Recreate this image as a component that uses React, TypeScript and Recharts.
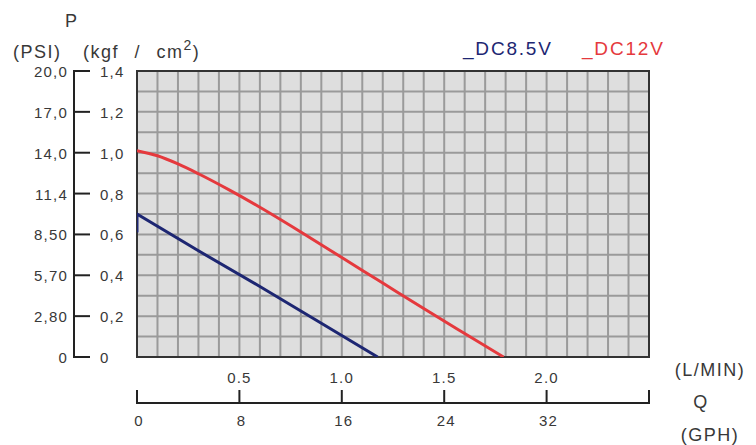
import {
  LineChart,
  Line,
  XAxis,
  YAxis,
  CartesianGrid,
  ReferenceArea,
  Legend,
} from "recharts";

// flow Q in L/min, pressure P in kgf/cm2
const dc85Flow = [0, 0, 0.3, 0.6, 0.9, 1.175];
const dc85Pressure = [0.61, 0.7, 0.52, 0.345, 0.165, 0];

const dc12Flow = [0, 0.1, 0.2, 0.3, 0.45, 0.6, 0.8, 1.0, 1.2, 1.4, 1.6, 1.79];
const dc12Pressure = [1.01, 0.985, 0.945, 0.897, 0.818, 0.733, 0.612, 0.487, 0.362, 0.237, 0.115, 0];

const seriesOrder = ["_DC8.5V", "_DC12V"];

// labelled ticks
const kgfTicks = [0, 0.2, 0.4, 0.6, 0.8, 1.0, 1.2, 1.4];
const kgfLabels = ["0", "0,2", "0,4", "0,6", "0,8", "1,0", "1,2", "1,4"];
const psiLabels = ["0", "2,80", "5,70", "8,50", "11,4", "14,0", "17,0", "20,0"];

const flowTicks = [0, 0.5, 1, 1.5, 2, 2.5];
const lminLabels = ["", "0.5", "1.0", "1.5", "2.0", ""];
const gphLabels = ["0", "8", "16", "24", "32", ""];

// grid cells every 0.1 on both axes
const xGrid = Array.from({ length: 26 }, (_, i) => i / 10);
const yGrid = Array.from({ length: 15 }, (_, i) => i / 10);

const dc85 = dc85Flow.map((q, i) => ({ q, p: dc85Pressure[i] }));
const dc12 = dc12Flow.map((q, i) => ({ q, p: dc12Pressure[i] }));

const WIDTH = 756;
const HEIGHT = 445;
const MARGIN = { top: 71, right: 107, bottom: 0, left: 0 };
const PLOT_W = WIDTH - 137 - MARGIN.right;
const PLOT_H = HEIGHT - MARGIN.top - 88;

const FONT = "'Liberation Sans', Arial, sans-serif";
const TEXT = "#383838";
const AXIS = "#222";

const numText = {
  fontFamily: FONT,
  fontSize: 15,
  letterSpacing: 1.2,
  fill: TEXT,
};

const titleText = {
  fontFamily: FONT,
  fontSize: 18,
  letterSpacing: 1.5,
  fill: TEXT,
};

const findTick = (list: number[], v: number) =>
  list.findIndex((t) => Math.abs(t - v) < 1e-6);

function PressureTick(props: any) {
  const { x, y, payload } = props;
  const i = findTick(kgfTicks, payload.value);
  if (i < 0) return <g />;
  const axisX = x - 63;
  const step = PLOT_H / (kgfTicks.length - 1);
  return (
    <g>
      {i < kgfTicks.length - 1 && (
        <line x1={axisX} y1={y} x2={axisX} y2={y - step} stroke={AXIS} strokeWidth={2} />
      )}
      <line x1={axisX - 1} y1={y} x2={axisX + 16} y2={y} stroke={AXIS} strokeWidth={2} />
      <text x={axisX - 6} y={y + 6} textAnchor="end" {...numText}>
        {psiLabels[i]}
      </text>
      <text x={axisX + 26} y={y + 6} textAnchor="start" {...numText}>
        {kgfLabels[i]}
      </text>
    </g>
  );
}

function FlowTick(props: any) {
  const { x, y, payload } = props;
  const i = findTick(flowTicks, payload.value);
  if (i < 0) return <g />;
  const lineY = y + 46;
  const step = PLOT_W / (flowTicks.length - 1);
  return (
    <g>
      {i < flowTicks.length - 1 && (
        <line x1={x} y1={lineY} x2={x + step} y2={lineY} stroke={AXIS} strokeWidth={2} />
      )}
      <line x1={x} y1={y + 33} x2={x} y2={lineY + 1} stroke={AXIS} strokeWidth={2} />
      {lminLabels[i] && (
        <text x={x} y={y + 26} textAnchor="middle" {...numText}>
          {lminLabels[i]}
        </text>
      )}
      {gphLabels[i] && (
        <text x={x + 2} y={y + 69} textAnchor="middle" {...numText}>
          {gphLabels[i]}
        </text>
      )}
    </g>
  );
}

const pressureTitles = () => (
  <g>
    <text x={65} y={27} {...titleText}>
      P
    </text>
    <text x={13} y={58} {...titleText}>
      (PSI)
    </text>
    <text x={83} y={58} wordSpacing={9} {...titleText}>
      (kgf / cm
      <tspan dy={-8} fontSize={14}>
        2
      </tspan>
      <tspan dy={8}>)</tspan>
    </text>
  </g>
);

const flowTitles = () => (
  <g>
    <text x={710} y={376} textAnchor="middle" {...titleText}>
      (L/MIN)
    </text>
    <text x={701} y={408} textAnchor="middle" {...titleText}>
      Q
    </text>
    <text x={710} y={441} textAnchor="middle" {...titleText}>
      (GPH)
    </text>
  </g>
);

function SeriesLegend(props: any) {
  const items = [...(props.payload ?? [])].sort(
    (a: any, b: any) => seriesOrder.indexOf(a.value) - seriesOrder.indexOf(b.value)
  );
  return (
    <div style={{ position: "relative", height: 24 }}>
      {items.map((entry: any, i: number) => (
        <span
          key={entry.value}
          style={{
            position: "absolute",
            left: i * 119,
            top: 0,
            fontFamily: FONT,
            fontSize: 19,
            lineHeight: "19px",
            letterSpacing: 1.8,
            whiteSpace: "nowrap",
            color: entry.color,
          }}
        >
          {entry.value}
        </span>
      ))}
    </div>
  );
}

export default function App() {
  return (
    <>
      <style>{"body{margin:0;overflow:hidden;background:#fff}"}</style>
      <LineChart width={WIDTH} height={HEIGHT} margin={MARGIN}>
        <CartesianGrid stroke="#9a9a9a" strokeWidth={2} fill="#dedede" fillOpacity={1} />
        <XAxis
          dataKey="q"
          type="number"
          domain={[0, 2.5]}
          ticks={xGrid}
          interval={0}
          allowDataOverflow
          axisLine={false}
          tickLine={false}
          tickSize={0}
          tickMargin={0}
          height={88}
          tick={(p: any) => <FlowTick {...p} />}
          label={flowTitles}
        />
        <YAxis
          type="number"
          domain={[0, 1.4]}
          ticks={yGrid}
          interval={0}
          allowDataOverflow
          axisLine={false}
          tickLine={false}
          tickSize={0}
          tickMargin={0}
          width={137}
          tick={(p: any) => <PressureTick {...p} />}
          label={pressureTitles}
        />
        <ReferenceArea
          x1={0}
          x2={2.5}
          y1={0}
          y2={1.4}
          fill="none"
          stroke="#333"
          strokeWidth={2}
          fillOpacity={0}
        />
        <Line
          data={dc85}
          dataKey="p"
          name="_DC8.5V"
          type="linear"
          stroke="#1d2672"
          strokeWidth={3}
          dot={false}
          isAnimationActive={false}
        />
        <Line
          data={dc12}
          dataKey="p"
          name="_DC12V"
          type="monotone"
          stroke="#e5393d"
          strokeWidth={3}
          dot={false}
          isAnimationActive={false}
        />
        <Legend
          layout="horizontal"
          verticalAlign="middle"
          align="center"
          wrapperStyle={{ left: 463, top: 39, width: 260, height: 24 }}
          content={(p: any) => <SeriesLegend {...p} />}
        />
      </LineChart>
    </>
  );
}
